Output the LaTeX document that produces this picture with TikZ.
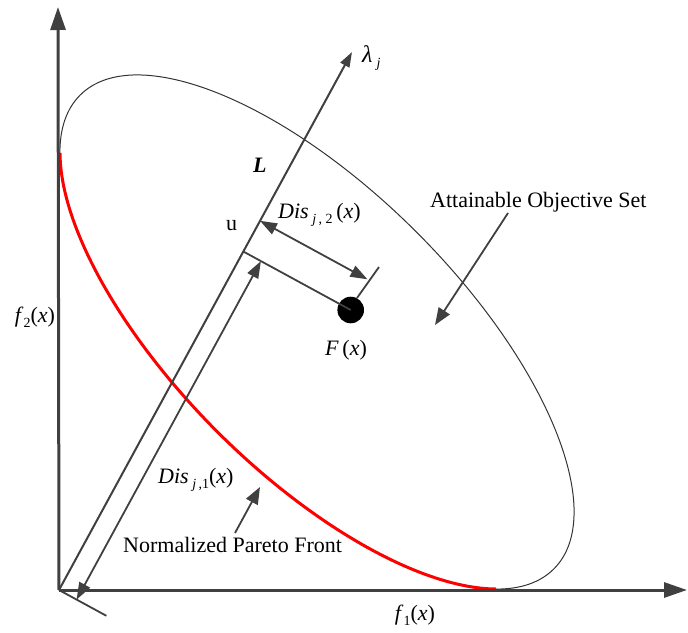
\documentclass[tikz,border=0pt]{standalone}
\usepackage{fontspec}
\setmainfont{Liberation Serif}
\usetikzlibrary{arrows.meta,calc}
\definecolor{axisgray}{HTML}{404040}
\newcommand{\sbs}[1]{\raisebox{-5pt}{\fontsize{14}{14}\selectfont #1}}
\tikzset{
  lbl/.style={font=\fontsize{22}{26}\selectfont, inner sep=0pt, text=black},
  axisline/.style={line width=3pt, draw=axisgray, -{Triangle[length=23pt,width=15pt]}},
  lamline/.style={line width=2pt, draw=axisgray, -{Triangle[length=15pt,width=10pt]}},
  dimline/.style={line width=1.8pt, draw=axisgray},
  dimarrow/.style={line width=1.8pt, draw=axisgray, {Triangle[length=17pt,width=12pt]}-{Triangle[length=17pt,width=12pt]}},
  callout/.style={line width=1.8pt, draw=axisgray, -{Triangle[length=17pt,width=13pt]}},
  ell/.style={line width=1pt, draw=black!80},
  front/.style={line width=3pt, draw=red}
}
\begin{document}
\begin{tikzpicture}[x=1pt,y=-1pt]
\useasboundingbox (0,0) rectangle (688,632);
% key points
\coordinate (O) at (59,590);
\coordinate (Ytop) at (58,7);
\coordinate (Xend) at (687,590);
\coordinate (T) at (352,52);
\coordinate (foot) at (243.3,251.5);
\coordinate (d2a) at (260,220.8);
\coordinate (d2b) at (367.4,279.3);
\coordinate (t1) at (357,298);
\coordinate (t2) at (379,267);
\coordinate (d1a) at (76.6,599.6);
\coordinate (d1b) at (260.9,261.1);
\coordinate (ot) at (106.4,615.8);
\coordinate (attFrom) at (508,213);
\coordinate (attTip) at (435,325);
\coordinate (npfFrom) at (235,533);
\coordinate (npfTip) at (260,487);
% ellipse (attainable set) and Pareto front
\draw[ell, shift={(317,332)}, rotate=-45] (0,0) ellipse[x radius=335, y radius=141];
\draw[front, shift={(317,332)}, rotate=-45] (157:335 and 141) arc[start angle=157, end angle=23, x radius=335, y radius=141];
% axes
\draw[axisline] (O) -- (Ytop);
\draw[axisline] (O) -- (Xend);
% lambda direction
\draw[lamline] (O) -- (T);
% point F(x)
\node[circle, fill=black, minimum size=26.6pt, inner sep=0pt] (dot) at (350.7,310) {};
\draw[dimline] (foot) -- (dot.center);
\draw[dimline] (t1) -- (t2);
\draw[dimline] (O) -- (ot);
\draw[dimarrow] (d2a) -- (d2b);
\draw[dimarrow] (d1a) -- (d1b);
% labels
\node[lbl, anchor=base west, font=\fontsize{24}{26}\selectfont] (lam) at (362,62) {\textit{λ}\,\sbs{\textit{j}}};
\node[lbl, anchor=base west] (L) at (253,172) {\textbf{\textit{L}}};
\node[lbl, anchor=base west] (u) at (226,230) {u};
\node[lbl, anchor=base west] (dis2) at (278,218) {\textit{Dis}\,\sbs{\textit{j}\,, 2}\,(\textit{x})};
\node[lbl, anchor=base] (Fx) at (346,355) {\textit{F}\,(\textit{x})};
\node[lbl, anchor=base] (f2) at (35,322) {\textit{f}\sbs{2}(\textit{x})};
\node[lbl, anchor=base] (f1) at (415,620) {\textit{f}\sbs{1}(\textit{x})};
\node[lbl, anchor=base west] (dis1) at (158,483) {\textit{Dis}\,\sbs{\textit{j}\,,1}(\textit{x})};
\node[lbl, anchor=base west] (npf) at (123,552) {Normalized Pareto Front};
\node[lbl, anchor=base west] (aos) at (430,207) {Attainable Objective Set};
% callout arrows
\draw[callout] (attFrom) -- (attTip);
\draw[callout] (npfFrom) -- (npfTip);
\end{tikzpicture}
\end{document}
